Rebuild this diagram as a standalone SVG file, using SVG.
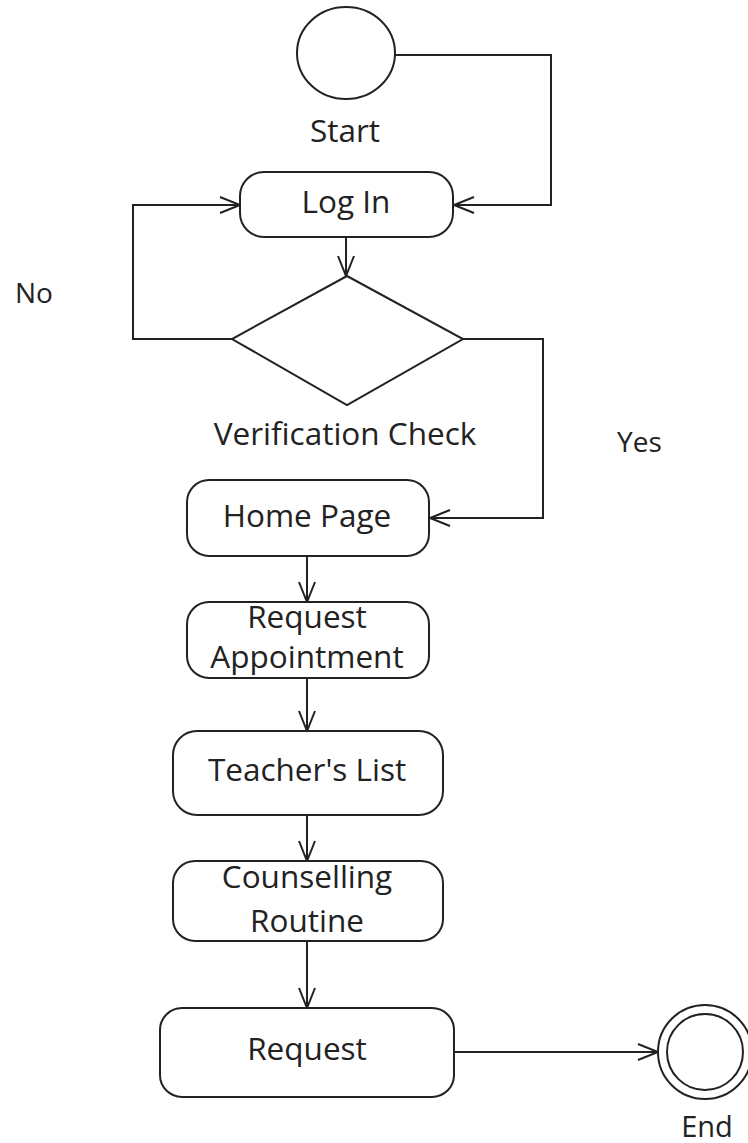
<svg xmlns="http://www.w3.org/2000/svg" width="748" height="1143" viewBox="0 0 748 1143">
<style>
.n{fill:#fff;stroke:#222;stroke-width:2}
.c{fill:none;stroke:#222;stroke-width:2;marker-end:url(#arr)}
text{font-family:"Open Sans",Lato,"Liberation Sans",sans-serif;font-size:31.5px;fill:#222;text-anchor:middle}
.s{text-anchor:start;font-size:28px}
</style>
<defs>
<marker id="arr" markerUnits="userSpaceOnUse" markerWidth="24" markerHeight="20" refX="21" refY="9" orient="auto" viewBox="0 0 24 18">
<path d="M1,1 L21,9 L1,17" fill="none" stroke="#222" stroke-width="2"/>
</marker>
</defs>
<rect width="748" height="1143" fill="#fff"/>
<g id="connectors">
<polyline class="c" points="395,55 551,55 551,205 454,205"/>
<line class="c" x1="346" y1="237" x2="346" y2="276"/>
<polyline class="c" points="232,339 133,339 133,205 240,205"/>
<polyline class="c" points="463,339 543,339 543,518 430,518"/>
<line class="c" x1="307" y1="556" x2="307" y2="602"/>
<line class="c" x1="307" y1="678" x2="307" y2="731"/>
<line class="c" x1="307" y1="815" x2="307" y2="861"/>
<line class="c" x1="307" y1="941" x2="307" y2="1008"/>
<line class="c" x1="454" y1="1052" x2="658" y2="1052"/>
</g>
<g id="start">
<ellipse class="n" cx="346" cy="53" rx="49" ry="46"/>
<text x="345" y="142">Start</text>
</g>
<g id="login">
<rect class="n" x="240" y="172" width="213" height="65" rx="24"/>
<text x="346" y="213">Log In</text>
</g>
<g id="verify">
<polygon class="n" points="347,276 463,339 347,405 232,339"/>
<text x="345" y="445">Verification Check</text>
</g>
<g id="no-label"><text class="s" x="15" y="303">No</text></g>
<g id="yes-label"><text class="s" x="617" y="452">Yes</text></g>
<g id="home">
<rect class="n" x="187" y="480" width="242" height="76" rx="22"/>
<text x="307" y="527">Home Page</text>
</g>
<g id="reqappt">
<rect class="n" x="187" y="602" width="242" height="76" rx="22"/>
<text x="307" y="628">Request</text>
<text x="307" y="668">Appointment</text>
</g>
<g id="teachers">
<rect class="n" x="173" y="731" width="270" height="84" rx="24"/>
<text x="307" y="781">Teacher's List</text>
</g>
<g id="routine">
<rect class="n" x="173" y="861" width="270" height="80" rx="22"/>
<text x="307" y="888">Counselling</text>
<text x="307" y="932">Routine</text>
</g>
<g id="request">
<rect class="n" x="160" y="1008" width="294" height="89" rx="22"/>
<text x="307" y="1060">Request</text>
</g>
<g id="end">
<circle class="n" cx="705" cy="1052" r="47"/>
<circle class="n" cx="705" cy="1052" r="38"/>
<text x="707" y="1137" style="font-size:29px">End</text>
</g>
</svg>
